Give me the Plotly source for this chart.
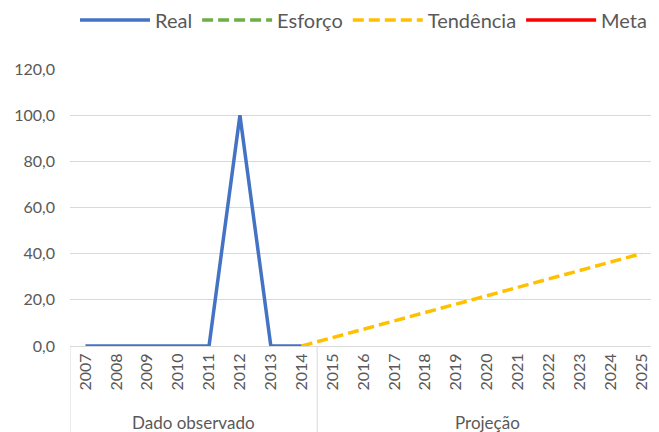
import plotly.graph_objects as go

years = [str(y) for y in range(2007, 2026)]
real = [0, 0, 0, 0, 0, 100, 0, 0] + [None] * 11
esforco = [None] * 19
tendencia = [None] * 7 + [0, 3.6, 7.3, 10.9, 14.5, 18.2, 21.8, 25.5, 29.1, 32.7, 36.4, 40.0]
meta = [None] * 19
groups = ["Dado observado", "Projeção"]
group_sizes = [8, 11]

FONT = "Lato, 'Open Sans', sans-serif"
GREY = "#595959"
GRID = "#d9d9d9"

# page body adds an 8px offset; compensate so the plot lands where the reference has it
W, H = 651, 424
ML, MR, MT, MB = 62, 2, 61, 86
plot_h = H - MT - MB

fig = go.Figure()
fig.add_trace(go.Scatter(x=years, y=real, name="Real", mode="lines",
                         line=dict(color="#4472C4", width=3.5)))
fig.add_trace(go.Scatter(x=years, y=esforco, name="Esforço", mode="lines",
                         line=dict(color="#70AD47", width=3.5, dash="11px,5px")))
fig.add_trace(go.Scatter(x=years, y=tendencia, name="Tendência", mode="lines",
                         line=dict(color="#FFC000", width=3.5, dash="11px,5px")))
fig.add_trace(go.Scatter(x=years, y=meta, name="Meta", mode="lines",
                         line=dict(color="#FF0000", width=3.5)))

# group labels and dividers
shapes = []
annotations = []
start = 0
bottom = -MB / plot_h
for g, n in zip(groups, group_sizes):
    center = start + (n - 1) / 2
    annotations.append(dict(x=center, xref="x", y=-76 / plot_h, yref="paper", text=g,
                            showarrow=False, font=dict(family=FONT, size=17, color=GREY),
                            xanchor="center", yanchor="middle"))
    shapes.append(dict(type="line", xref="x", yref="paper", x0=start - 0.5, x1=start - 0.5,
                       y0=0, y1=bottom, line=dict(color=GRID, width=1)))
    start += n
shapes.append(dict(type="line", xref="x", yref="paper", x0=start - 0.5, x1=start - 0.5,
                   y0=0, y1=bottom, line=dict(color=GRID, width=1)))

fig.update_layout(
    width=W, height=H,
    margin=dict(l=ML, r=MR, t=MT, b=MB, autoexpand=False),
    paper_bgcolor="white", plot_bgcolor="white",
    separators=",.",
    font=dict(family=FONT, size=16, color=GREY),
    showlegend=True,
    legend=dict(orientation="h", x=0.5, xanchor="center", y=1 - 12 / H, yref="container",
                yanchor="middle", font=dict(family=FONT, size=20, color=GREY),
                itemwidth=70, traceorder="normal"),
    shapes=shapes, annotations=annotations,
)
fig.update_xaxes(type="category", range=[-0.5, 18.5], tickangle=-90, showgrid=False,
                 showline=True, linecolor=GRID, linewidth=1, ticks="", automargin=False,
                 tickfont=dict(family=FONT, size=16, color=GREY))
fig.update_yaxes(range=[0, 120], dtick=20, tickformat=".1f", showgrid=True, gridcolor=GRID,
                 gridwidth=1, showline=False, zeroline=False, ticks="", automargin=False,
                 ticklabelstandoff=14, tickfont=dict(family=FONT, size=16, color=GREY))

fig.write_html("out.html")
